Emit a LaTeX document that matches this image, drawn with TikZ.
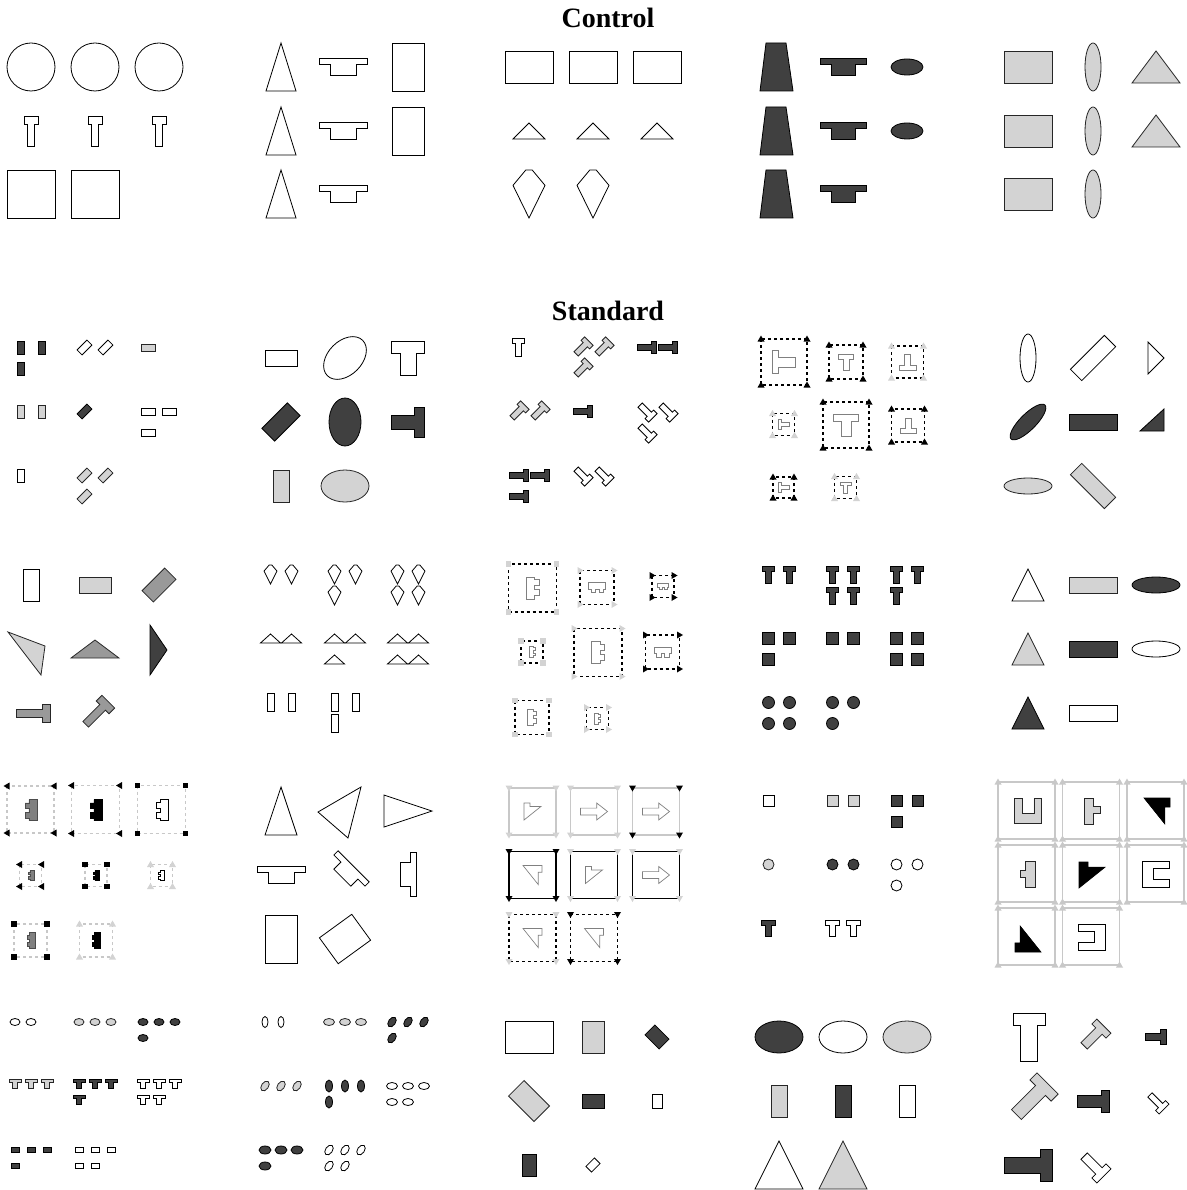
\documentclass[tikz,border=0pt]{standalone}
\usepackage{fontspec}
\setmainfont{Liberation Serif}
\usepackage{xcolor}

\definecolor{dk}{HTML}{404040}
\definecolor{md}{HTML}{999999}
\definecolor{lt}{HTML}{D3D3D3}
\definecolor{gr}{HTML}{808080}
\definecolor{fr}{HTML}{C8C8C8}

% shapes: style, x, y, sizes, rotation
\newcommand{\shR}[6]{\draw[#1,rotate around={#6:({#2},{#3})}] ({#2-#4/2},{#3-#5/2}) rectangle ({#2+#4/2},{#3+#5/2});}
\newcommand{\shE}[6]{\draw[#1,rotate around={#6:({#2},{#3})}] ({#2},{#3}) ellipse ({#4/2} and {#5/2});}
\newcommand{\shTri}[6]{\begin{scope}[shift={({#2},{#3})},rotate=#6]
  \draw[#1] ({-#4/2},{#5/2}) -- ({#4/2},{#5/2}) -- (0,{-#5/2}) -- cycle;\end{scope}}
% T: style, x, y, bar width, height, stem width, bar thickness, rotation
\newcommand{\shT}[8]{\begin{scope}[shift={({#2},{#3})},rotate=#8]
  \draw[#1] ({-#4/2},{-#5/2}) -- ({#4/2},{-#5/2}) -- ({#4/2},{-#5/2+#7}) -- ({#6/2},{-#5/2+#7})
    -- ({#6/2},{#5/2}) -- ({-#6/2},{#5/2}) -- ({-#6/2},{-#5/2+#7}) -- ({-#4/2},{-#5/2+#7}) -- cycle;\end{scope}}
\newcommand{\shKite}[5]{\begin{scope}[shift={({#2},{#3})},xscale=#4,yscale=#5]
  \draw[#1] (-0.1,-0.5) -- (0.1,-0.5) -- (0.5,-0.18) -- (0,0.5) -- (-0.5,-0.18) -- cycle;\end{scope}}
\newcommand{\shComb}[6]{\begin{scope}[shift={({#2},{#3})},rotate=#6,xscale=#4,yscale=#5]
  \draw[#1] (-0.17,-0.5) -- (0.5,-0.5) -- (0.5,0.5) -- (-0.17,0.5) -- (-0.17,0.38) -- (-0.5,0.38)
    -- (-0.5,0.12) -- (-0.17,0.12) -- (-0.17,-0.08) -- (-0.5,-0.08) -- (-0.5,-0.34) -- (-0.17,-0.34) -- cycle;\end{scope}}
\newcommand{\shNt}[5]{\begin{scope}[shift={({#2},{#3})},rotate=#5,scale=#4]
  \draw[#1] (-0.5,-0.5) -- (0.5,-0.5) -- (0.5,-0.15) -- (0.3,-0.15) -- (0.3,0.5) -- cycle;\end{scope}}
\newcommand{\shArr}[5]{\begin{scope}[shift={({#2},{#3})},xscale=#4,yscale=#5]
  \draw[#1] (-0.5,-0.2) -- (0.1,-0.2) -- (0.1,-0.5) -- (0.5,0) -- (0.1,0.5) -- (0.1,0.2) -- (-0.5,0.2) -- cycle;\end{scope}}
\newcommand{\shU}[6]{\begin{scope}[shift={({#2},{#3})},rotate=#6,xscale=#4,yscale=#5]
  \draw[#1] (-0.5,-0.5) -- (-0.22,-0.5) -- (-0.22,0.1) -- (0.22,0.1) -- (0.22,-0.5) -- (0.5,-0.5) -- (0.5,0.5) -- (-0.5,0.5) -- cycle;\end{scope}}
% frames and corner marks
\newcommand{\shFr}[4]{\draw[#1] ({#2-#4/2},{#3-#4/2}) rectangle ({#2+#4/2},{#3+#4/2});}
\newcommand{\shMt}[5]{\foreach \sx/\sy in {-1/-1,1/-1,-1/1,1/1}{
  \fill[#1,shift={({#3+\sx*#5/2},{#4+\sy*#5/2})},rotate=#2] (3.5,0) -- (-2.5,-3.5) -- (-2.5,3.5) -- cycle;}}
\newcommand{\shMs}[4]{\foreach \sx/\sy in {-1/-1,1/-1,-1/1,1/1}{
  \fill[#1] ({#2+\sx*#4/2-2.7},{#3+\sy*#4/2-2.7}) rectangle +(5.4,5.4);}}

% offsets of small groups
\newcommand{\gA}{-10.5/-10.5}
\newcommand{\gB}{-10.5/-10.5,10.5/-10.5}
\newcommand{\gC}{-10.5/-10.5,10.5/-10.5,-10.5/10.5}
\newcommand{\gD}{-10.5/-10.5,10.5/-10.5,-10.5/10.5,10.5/10.5}
\newcommand{\hB}{-16/-15,0/-15}
\newcommand{\hC}{-16/-15,0/-15,16/-15}
\newcommand{\hD}{-16/-15,0/-15,16/-15,-16/1}
\newcommand{\hE}{-16/-15,0/-15,16/-15,-16/1,0/1}

\begin{document}
\begin{tikzpicture}[x=1pt,y=-1pt,
  wt/.style={draw=black,fill=white,line width=0.8pt},
  dkf/.style={draw=black,fill=dk,line width=0.8pt},
  ltf/.style={draw=black!85,fill=lt,line width=0.8pt},
  mdf/.style={draw=black!85,fill=md,line width=0.8pt},
  grf/.style={draw=black!70,fill=gr,line width=0.6pt},
  bkf/.style={draw=black,fill=black,line width=0.6pt},
  inl/.style={draw=gr,fill=white,line width=0.7pt},
  dfr/.style={draw=black,dashed,line width=1.3pt},
  lfr/.style={draw=fr,dashed,line width=1.3pt},
  sfr/.style={draw=fr,line width=1.6pt},
  bfr/.style={draw=black,line width=1.6pt},
  ttl/.style={font=\fontsize{28}{30}\selectfont\bfseries}
]
\useasboundingbox (0,0) rectangle (1186,1190);
\fill[white] (0,0) rectangle (1186,1190);

\node[ttl] (ctl) at (608,18) {Control};
\node[ttl] (std) at (608,311) {Standard};

% ---------- Control ----------
\foreach \x in {31,95,159} {
  \draw[wt] (\x,67) circle (24);
  \shT{wt}{\x}{131}{14}{30}{7}{8}{0}
}
\shR{wt}{31}{194}{48}{48}{0}
\shR{wt}{95}{194}{48}{48}{0}

\foreach \y in {67,131,194} {
  \shTri{wt}{281}{\y}{30}{48}{0}
  \shT{wt}{343}{\y}{48}{17}{26}{6}{0}
}
\shR{wt}{408}{67}{32}{48}{0}
\shR{wt}{408}{131}{32}{48}{0}

\foreach \x in {529,593,657} {
  \shR{wt}{\x}{67}{48}{32}{0}
  \shTri{wt}{\x}{131}{32}{16}{0}
}
\shKite{wt}{529}{194}{32}{48}
\shKite{wt}{593}{194}{32}{48}

\foreach \y in {67,131,194} {
  \draw[dkf] (760,\y+24) -- (793,\y+24) -- (786,\y-24) -- (766,\y-24) -- cycle;
  \shT{dkf}{843}{\y}{46}{17}{24}{6}{0}
  \shR{ltf}{1028}{\y}{48}{32}{0}
  \shE{ltf}{1093}{\y}{16}{48}{0}
}
\shE{dkf}{907}{67}{32}{16}{0}
\shE{dkf}{907}{131}{32}{16}{0}
\shTri{ltf}{1156}{67}{48}{32}{0}
\shTri{ltf}{1156}{131}{48}{32}{0}

% ---------- Standard, row 1 ----------
\foreach \dx/\dy in \gC {\shR{dkf}{31+(\dx)}{358+(\dy)}{7}{13}{0}}
\foreach \dx/\dy in \gB {\shR{wt}{95+(\dx)}{358+(\dy)}{14}{7}{45}}
\foreach \dx/\dy in \gA {\shR{ltf}{159+(\dx)}{358+(\dy)}{14}{7}{0}}
\foreach \dx/\dy in \gB {\shR{ltf}{31+(\dx)}{422+(\dy)}{7}{13}{0}}
\foreach \dx/\dy in \gA {\shR{dkf}{95+(\dx)}{422+(\dy)}{14}{7}{45}}
\foreach \dx/\dy in \gC {\shR{wt}{159+(\dx)}{422+(\dy)}{14}{7}{0}}
\foreach \dx/\dy in \gA {\shR{wt}{31+(\dx)}{486+(\dy)}{7}{13}{0}}
\foreach \dx/\dy in \gC {\shR{ltf}{95+(\dx)}{486+(\dy)}{14}{7}{45}}

\shR{wt}{281}{358}{32}{16}{0}
\shE{wt}{345}{358}{50}{34}{45}
\shT{wt}{408}{358}{33}{34}{16}{12}{0}
\shR{dkf}{281}{422}{36}{18}{45}
\shE{dkf}{345}{422}{32}{48}{0}
\shT{dkf}{408}{422}{30}{33}{14}{10}{-90}
\shR{ltf}{281}{486}{16}{32}{0}
\shE{ltf}{345}{486}{48}{32}{0}

\foreach \dx/\dy in \gA {\shT{wt}{529+(\dx)}{358+(\dy)}{12}{18}{6}{5}{0}}
\foreach \dx/\dy in \gC {\shT{ltf}{593+(\dx)}{358+(\dy)}{12}{18}{6}{5}{-45}}
\foreach \dx/\dy in \gB {\shT{dkf}{657+(\dx)}{358+(\dy)}{12}{19}{6}{5}{-90}}
\foreach \dx/\dy in \gB {\shT{ltf}{529+(\dx)}{422+(\dy)}{12}{18}{6}{5}{-45}}
\foreach \dx/\dy in \gA {\shT{dkf}{593+(\dx)}{422+(\dy)}{12}{19}{6}{5}{-90}}
\foreach \dx/\dy in \gC {\shT{wt}{657+(\dx)}{422+(\dy)}{12}{18}{6}{5}{-135}}
\foreach \dx/\dy in \gC {\shT{dkf}{529+(\dx)}{486+(\dy)}{12}{19}{6}{5}{-90}}
\foreach \dx/\dy in \gB {\shT{wt}{593+(\dx)}{486+(\dy)}{12}{18}{6}{5}{-135}}

\shFr{dfr}{784}{362}{46}  \shMt{black}{90}{784}{362}{46}  \shT{inl}{784}{362}{23}{23}{10}{6}{90}
\shFr{dfr}{846}{362}{34}  \shMt{black}{90}{846}{362}{34}  \shT{inl}{846}{362}{15}{16}{6}{5}{0}
\shFr{dfr}{907.5}{362}{32} \shMt{lt}{90}{907.5}{362}{32} \shT{inl}{907.5}{362}{17}{16}{6}{5}{180}
\shFr{dfr}{783.5}{424.5}{22} \shMt{lt}{90}{783.5}{424.5}{22} \shT{inl}{783.5}{424.5}{10}{11}{4}{3}{90}
\shFr{dfr}{846}{425}{46}  \shMt{black}{90}{846}{425}{46}  \shT{inl}{846}{425}{25}{22}{10}{7}{0}
\shFr{dfr}{908}{425.5}{33} \shMt{black}{90}{908}{425.5}{33} \shT{inl}{908}{425.5}{16}{15}{6}{5}{180}
\shFr{dfr}{783.5}{487.5}{21} \shMt{black}{90}{783.5}{487.5}{21} \shT{inl}{783.5}{487.5}{10}{11}{4}{3}{90}
\shFr{dfr}{845.5}{487.5}{22} \shMt{lt}{90}{845.5}{487.5}{22} \shT{inl}{845.5}{487.5}{11}{11}{4}{3}{0}

\shE{wt}{1028}{358}{16}{48}{0}
\shR{wt}{1093}{358}{48}{16}{45}
\draw[wt] (1148,342) -- (1164,358) -- (1148,374) -- cycle;
\shE{dkf}{1028}{422}{48}{16}{45}
\shR{dkf}{1093}{422}{48}{16}{0}
\draw[dkf] (1140,431) -- (1164,431) -- (1164,409) -- cycle;
\shE{ltf}{1028}{486}{48}{16}{0}
\shR{ltf}{1093}{486}{48}{16}{-45}

% ---------- Standard, row 2 ----------
\shR{wt}{31}{585}{16}{32}{0}
\shR{ltf}{95}{585}{32}{16}{0}
\shR{mdf}{159}{585}{32}{16}{45}
\draw[ltf] (8,632) -- (45,646) -- (41,675) -- cycle;
\shTri{mdf}{95}{649}{48}{18}{0}
\draw[dkf] (150,625) -- (167,650) -- (150,675) -- cycle;
\shT{mdf}{33}{713}{18}{34}{8}{8}{-90}
\shT{mdf}{97}{713}{18}{32}{8}{8}{-45}

\foreach \dx/\dy in \gB {\shKite{wt}{281+(\dx)}{585+(\dy)}{13}{19}}
\foreach \dx/\dy in \gC {\shKite{wt}{345+(\dx)}{585+(\dy)}{13}{19}}
\foreach \dx/\dy in \gD {\shKite{wt}{408+(\dx)}{585+(\dy)}{13}{19}}
\foreach \dx/\dy in \gB {\shTri{wt}{281+(\dx)}{649+(\dy)}{20}{9}{0}}
\foreach \dx/\dy in \gC {\shTri{wt}{345+(\dx)}{649+(\dy)}{20}{9}{0}}
\foreach \dx/\dy in \gD {\shTri{wt}{408+(\dx)}{649+(\dy)}{20}{9}{0}}
\foreach \dx/\dy in \gB {\shR{wt}{281+(\dx)}{713+(\dy)}{7}{18}{0}}
\foreach \dx/\dy in \gC {\shR{wt}{345+(\dx)}{713+(\dy)}{7}{18}{0}}

\shFr{dfr}{532.5}{588}{48} \shMs{lt}{532.5}{588}{48} \shComb{inl}{532.5}{588}{13}{22}{180}
\shFr{dfr}{597}{587.5}{34} \shMt{lt}{0}{597}{587.5}{34} \shComb{inl}{597}{587.5}{10}{17}{90}
\shFr{dfr}{663}{586.5}{22} \shMt{black}{0}{663}{586.5}{22} \shComb{inl}{663}{586.5}{6}{11}{90}
\shFr{dfr}{532}{652}{22} \shMs{lt}{532}{652}{22} \shComb{inl}{532}{652}{6}{11}{180}
\shFr{dfr}{598}{652.5}{48} \shMt{lt}{0}{598}{652.5}{48} \shComb{inl}{598}{652.5}{13}{22}{180}
\shFr{dfr}{662.5}{652}{34} \shMt{black}{0}{662.5}{652}{34} \shComb{inl}{662.5}{652}{10}{17}{90}
\shFr{dfr}{532}{717.5}{34} \shMs{lt}{532}{717.5}{34} \shComb{inl}{532}{717.5}{9}{16}{180}
\shFr{dfr}{597.5}{718.5}{22} \shMt{lt}{0}{597.5}{718.5}{22} \shComb{inl}{597.5}{718.5}{6}{11}{180}

\foreach \dx/\dy in \gB {\shT{dkf}{779+(\dx)}{585+(\dy)}{12}{17}{6}{5}{0}}
\foreach \dx/\dy in \gD {\shT{dkf}{843+(\dx)}{585+(\dy)}{12}{17}{6}{5}{0}}
\foreach \dx/\dy in \gC {\shT{dkf}{907+(\dx)}{585+(\dy)}{12}{17}{6}{5}{0}}
\foreach \dx/\dy in \gC {\shR{dkf}{779+(\dx)}{649+(\dy)}{12}{12}{0}}
\foreach \dx/\dy in \gB {\shR{dkf}{843+(\dx)}{649+(\dy)}{12}{12}{0}}
\foreach \dx/\dy in \gD {\shR{dkf}{907+(\dx)}{649+(\dy)}{12}{12}{0}}
\foreach \dx/\dy in \gD {\draw[dkf] ({779+(\dx)},{713+(\dy)}) circle (6);}
\foreach \dx/\dy in \gC {\draw[dkf] ({843+(\dx)},{713+(\dy)}) circle (6);}

\shTri{wt}{1028}{585}{32}{32}{0}
\shR{ltf}{1093}{585}{48}{16}{0}
\shE{dkf}{1156}{585}{48}{16}{0}
\shTri{ltf}{1028}{649}{32}{32}{0}
\shR{dkf}{1093}{649}{48}{16}{0}
\shE{wt}{1156}{649}{48}{16}{0}
\shTri{dkf}{1028}{713}{32}{32}{0}
\shR{wt}{1093}{713}{48}{16}{0}

% ---------- Standard, row 3 ----------
\shFr{lfr}{30.5}{809.5}{47} \shMt{black}{180}{30.5}{809.5}{47} \shComb{grf}{31}{810}{12}{21}{0}
\shFr{lfr}{95.5}{809.5}{48} \shMt{black}{180}{95.5}{809.5}{48} \shComb{bkf}{96}{810}{12}{21}{0}
\shFr{lfr}{161.5}{809.5}{48} \shMs{black}{161.5}{809.5}{48} \shComb{wt}{162}{810}{12}{21}{0}
\shFr{lfr}{30.5}{875.5}{22} \shMt{black}{180}{30.5}{875.5}{22} \shComb{grf}{31}{875.5}{6}{10}{0}
\shFr{lfr}{96}{875.5}{22} \shMs{black}{96}{875.5}{22} \shComb{bkf}{96}{875.5}{6}{10}{0}
\shFr{lfr}{161.5}{875.5}{22} \shMt{lt}{90}{161.5}{875.5}{22} \shComb{wt}{161.5}{875.5}{6}{10}{0}
\shFr{lfr}{30.5}{940.5}{33} \shMs{black}{30.5}{940.5}{33} \shComb{grf}{31}{940.5}{8}{16}{0}
\shFr{lfr}{96}{940.5}{33} \shMt{lt}{90}{96}{940.5}{33} \shComb{bkf}{96}{940.5}{8}{16}{0}

\shTri{wt}{281}{811}{32}{48}{0}
\draw[wt] (318,812) -- (361,787) -- (348,838) -- cycle;
\draw[wt] (384,795) -- (432,811) -- (384,827) -- cycle;
\shT{wt}{281}{875}{48}{17}{26}{6}{0}
\shT{wt}{348}{872}{44}{16}{24}{6}{-45}
\shT{wt}{408}{874}{44}{16}{24}{6}{-90}
\shR{wt}{281}{939}{32}{48}{0}
\shR{wt}{345}{939}{40}{32}{36}

\shFr{sfr}{532.5}{811.5}{47} \shMt{lt}{270}{532.5}{811.5}{47} \shNt{inl}{532.5}{811.5}{17}{90}
\shFr{sfr}{594}{811.5}{47} \shMt{lt}{270}{594}{811.5}{47} \shArr{inl}{594}{811.5}{27}{17}
\shFr{sfr}{656}{811.5}{47} \shMt{black}{270}{656}{811.5}{47} \shArr{inl}{656}{811.5}{27}{17}
\shFr{bfr}{532.5}{875}{47} \shMt{black}{270}{532.5}{875}{47} \shNt{inl}{532.5}{875}{19}{0}
\shFr{bfr}{594}{875}{47} \shMt{lt}{270}{594}{875}{47} \shNt{inl}{594}{875}{17}{90}
\shFr{bfr}{656}{875}{47} \shMt{lt}{270}{656}{875}{47} \shArr{inl}{656}{875}{27}{17}
\shFr{dfr}{532.5}{938}{47} \shMt{lt}{270}{532.5}{938}{47} \shNt{inl}{532.5}{938}{19}{0}
\shFr{dfr}{594}{938}{47} \shMt{black}{270}{594}{938}{47} \shNt{inl}{594}{938}{19}{0}

\foreach \dx/\dy in \gA {\shR{wt}{779+(\dx)}{811+(\dy)}{11}{11}{0}}
\foreach \dx/\dy in \gB {\shR{ltf}{843+(\dx)}{811+(\dy)}{11}{11}{0}}
\foreach \dx/\dy in \gC {\shR{dkf}{907+(\dx)}{811+(\dy)}{11}{11}{0}}
\foreach \dx/\dy in \gA {\draw[ltf] ({779+(\dx)},{875+(\dy)}) circle (5.5);}
\foreach \dx/\dy in \gB {\draw[dkf] ({843+(\dx)},{875+(\dy)}) circle (5.5);}
\foreach \dx/\dy in \gC {\draw[wt] ({907+(\dx)},{875+(\dy)}) circle (5.5);}
\foreach \dx/\dy in \gA {\shT{dkf}{779+(\dx)}{939+(\dy)}{14}{16}{6}{5}{0}}
\foreach \dx/\dy in \gB {\shT{wt}{843+(\dx)}{939+(\dy)}{14}{16}{6}{5}{0}}

\foreach \x in {1026.5,1091,1155.5} \foreach \y in {810.5,873.5} {\shFr{sfr}{\x}{\y}{57} \shMt{fr}{90}{\x}{\y}{57}}
\foreach \x in {1026.5,1091} {\shFr{sfr}{\x}{936.5}{57} \shMt{fr}{90}{\x}{936.5}{57}}
\shU{ltf}{1028}{811}{27}{25}{0}
\draw[ltf] (1084,798) -- (1093,798) -- (1093,806) -- (1100,806) -- (1100,813) -- (1093,813) -- (1093,824) -- (1084,824) -- cycle;
\shNt{bkf}{1157}{811}{26}{0}
\draw[ltf] (1025,861) -- (1035,861) -- (1035,887) -- (1025,887) -- (1025,877) -- (1020,877) -- (1020,870) -- (1025,870) -- cycle;
\shNt{bkf}{1092}{875}{26}{90}
\shU{wt}{1156}{874}{26}{27}{-90}
\shNt{bkf}{1028}{939}{26}{180}
\shU{wt}{1092}{937}{26}{27}{90}

% ---------- Standard, row 4 ----------
\foreach \dx/\dy in \hB {\shE{wt}{31+(\dx)}{1037+(\dy)}{10}{7}{0}}
\foreach \dx/\dy in \hC {\shE{ltf}{95+(\dx)}{1037+(\dy)}{10}{7}{0}}
\foreach \dx/\dy in \hD {\shE{dkf}{159+(\dx)}{1037+(\dy)}{10}{7}{0}}
\foreach \dx/\dy in \hC {\shT{ltf}{31+(\dx)}{1099+(\dy)}{12}{9}{5}{3}{0}}
\foreach \dx/\dy in \hD {\shT{dkf}{95+(\dx)}{1099+(\dy)}{12}{9}{5}{3}{0}}
\foreach \dx/\dy in \hE {\shT{wt}{159+(\dx)}{1099+(\dy)}{12}{9}{5}{3}{0}}
\foreach \dx/\dy in \hD {\shR{dkf}{31+(\dx)}{1165+(\dy)}{8}{5}{0}}
\foreach \dx/\dy in \hE {\shR{wt}{95+(\dx)}{1165+(\dy)}{8}{5}{0}}

\foreach \dx/\dy in \hB {\shE{wt}{281+(\dx)}{1037+(\dy)}{6}{11}{0}}
\foreach \dx/\dy in \hC {\shE{ltf}{345+(\dx)}{1037+(\dy)}{11}{7}{0}}
\foreach \dx/\dy in \hD {\shE{dkf}{408+(\dx)}{1037+(\dy)}{7}{11}{-35}}
\foreach \dx/\dy in \hC {\shE{ltf}{281+(\dx)}{1101+(\dy)}{7}{11}{-35}}
\foreach \dx/\dy in \hD {\shE{dkf}{345+(\dx)}{1101+(\dy)}{7}{12}{0}}
\foreach \dx/\dy in \hE {\shE{wt}{408+(\dx)}{1101+(\dy)}{11}{7}{0}}
\foreach \dx/\dy in \hD {\shE{dkf}{281+(\dx)}{1165+(\dy)}{12}{8}{0}}
\foreach \dx/\dy in \hE {\shE{wt}{345+(\dx)}{1165+(\dy)}{7}{11}{-35}}

\shR{wt}{529}{1037}{48}{32}{0}
\shR{ltf}{593}{1037}{22}{32}{0}
\shR{dkf}{657}{1037}{20}{14}{-45}
\shR{ltf}{529}{1101}{36}{22}{-45}
\shR{dkf}{593}{1101}{22}{14}{0}
\shR{wt}{657}{1101}{10}{14}{0}
\shR{dkf}{529}{1165}{14}{22}{0}
\shR{wt}{593}{1165}{12}{8}{45}

\shE{dkf}{779}{1037}{48}{32}{0}
\shE{wt}{843}{1037}{48}{32}{0}
\shE{ltf}{907}{1037}{48}{32}{0}
\shR{ltf}{779}{1101}{16}{32}{0}
\shR{dkf}{843}{1101}{16}{32}{0}
\shR{wt}{907}{1101}{16}{32}{0}
\shTri{wt}{779}{1165}{48}{48}{0}
\shTri{ltf}{843}{1165}{48}{48}{0}

\shT{wt}{1029}{1037}{32}{48}{17}{12}{0}
\shT{ltf}{1094}{1036}{20}{28}{9}{7}{-45}
\shT{dkf}{1156}{1037}{15}{21}{7}{6}{-90}
\shT{ltf}{1032}{1099}{30}{44}{14}{10}{-45}
\shT{dkf}{1093}{1101}{22}{32}{12}{8}{-90}
\shT{wt}{1157}{1102}{14}{20}{6}{5}{-135}
\shT{dkf}{1028}{1165}{32}{48}{16}{12}{-90}
\shT{wt}{1094}{1166}{20}{28}{9}{7}{-135}
\end{tikzpicture}
\end{document}
